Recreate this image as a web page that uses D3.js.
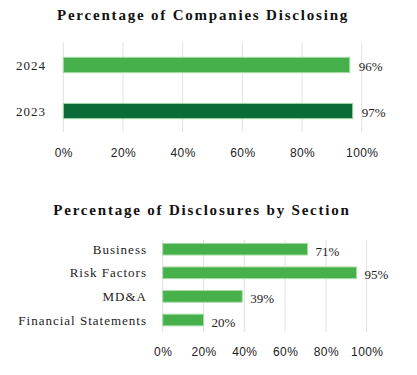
<!DOCTYPE html>
<html><head><meta charset="utf-8">
<script src="https://cdn.jsdelivr.net/npm/d3@7"></script>
<style>
body{margin:0;background:#fff;}
svg{display:block;}
</style></head>
<body>
<script>
// Chart 1 data
const years = ["2024", "2023"];
const yearValues = [96, 97];
const yearColors = ["#46b04a", "#0a6b39"];
// Chart 2 data
const sections = ["Business", "Risk Factors", "MD&A", "Financial Statements"];
const sectionValues = [71, 95, 39, 20];
const ticks = [0, 20, 40, 60, 80, 100];
const title1 = "Percentage of Companies Disclosing";
const title2 = "Percentage of Disclosures by Section";

const W = 417, H = 375;
const svg = d3.select("body").append("svg").attr("width", W).attr("height", H);
const serif = "'Liberation Serif','Times New Roman',serif";
const sans = "'Liberation Sans',Arial,sans-serif";

function drawChart(cfg) {
  const x = d3.scaleLinear().domain([0, 100]).range([cfg.x0, cfg.x1]);
  const y = d3.scaleBand().domain(cfg.cats).range([cfg.yTop, cfg.yBot]).paddingInner(cfg.padIn).paddingOuter(cfg.padOut);
  const g = svg.append("g");
  // title
  g.append("text").attr("x", cfg.titleX).attr("y", cfg.titleY)
    .attr("text-anchor", "middle").attr("font-family", serif).attr("font-weight", "bold")
    .attr("font-size", 15).attr("letter-spacing", cfg.titleLs).attr("fill", "#111").text(cfg.title);
  // grid
  g.selectAll(".grid").data(ticks).enter().append("line")
    .attr("x1", d => x(d)).attr("x2", d => x(d))
    .attr("y1", cfg.gridTop).attr("y2", cfg.gridBot)
    .attr("stroke", "#e2e2e2").attr("stroke-width", 1);
  // axis ticks labels
  const axis = d3.axisBottom(x).tickValues(ticks).tickFormat(d => d + "%").tickSize(0);
  const ag = g.append("g").attr("transform", `translate(0,${cfg.tickY})`).call(axis);
  ag.select(".domain").remove();
  ag.selectAll("text").attr("font-family", sans).attr("font-size", 12).attr("fill", "#222")
    .attr("letter-spacing", 0.4).attr("dy", "0.32em").attr("y", 0);
  // bars
  g.selectAll(".bar").data(cfg.values).enter().append("rect")
    .attr("x", x(0)).attr("y", (d, i) => y(cfg.cats[i]))
    .attr("width", d => x(d) - x(0)).attr("height", y.bandwidth())
    .attr("fill", (d, i) => cfg.colors[i]).attr("stroke", "#a9dba9").attr("stroke-width", 1);
  // category labels
  g.selectAll(".cat").data(cfg.cats).enter().append("text")
    .attr("x", cfg.catX).attr("y", d => y(d) + y.bandwidth() / 2).attr("dy", "0.35em")
    .attr("text-anchor", "end").attr("font-family", serif).attr("font-size", 13)
    .attr("letter-spacing", 1.0).attr("fill", "#222").text(d => d);
  // value labels
  g.selectAll(".val").data(cfg.values).enter().append("text")
    .attr("x", d => x(d) + cfg.valGap).attr("y", (d, i) => y(cfg.cats[i]) + y.bandwidth() / 2 + cfg.valDy)
    .attr("dy", "0.35em").attr("font-family", serif).attr("font-size", 13)
    .attr("fill", "#222").text(d => d + "%");
}

drawChart({
  title: title1, titleX: 203, titleY: 20, titleLs: 1.8,
  cats: years, values: yearValues, colors: yearColors,
  x0: 63.3, x1: 361.7, yTop: 42, yBot: 134, padIn: 0.667, padOut: 0.333,
  gridTop: 42, gridBot: 132, tickY: 153, catX: 46, valGap: 9, valDy: 1.5
});

drawChart({
  title: title2, titleX: 202, titleY: 215, titleLs: 1.8,
  cats: sections, values: sectionValues, colors: sections.map(() => "#46b04a"),
  x0: 162.7, x1: 366.7, yTop: 238, yBot: 331.2, padIn: 0.506, padOut: 0.227,
  gridTop: 240, gridBot: 332, tickY: 352, catX: 147, valGap: 8, valDy: 2
});
</script>
</body></html>
